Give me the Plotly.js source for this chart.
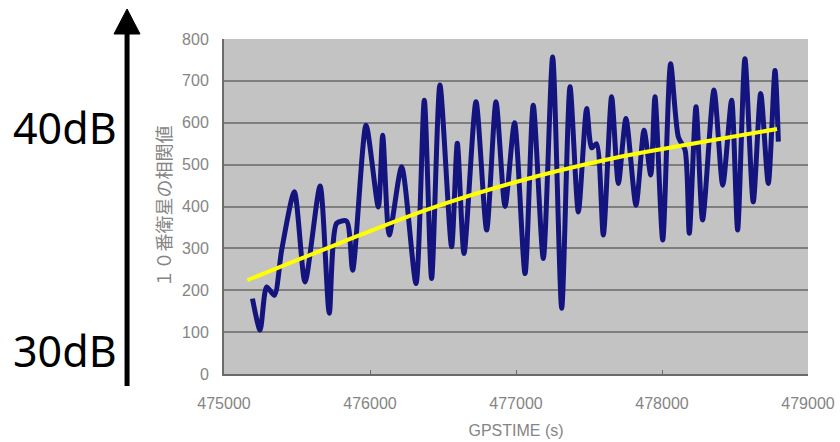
<!DOCTYPE html>
<html>
<head>
<meta charset="utf-8">
<script src="https://cdn.plot.ly/plotly-3.0.1.min.js"></script>
<style>html,body{margin:0;padding:0;background:#fff;}#chart{width:840px;height:442px;}</style>
</head>
<body>
<div id="chart"></div>
<script>
// GPS time (s) of the correlation curve's turning points
var gpsTime = [475195, 475247, 475292, 475345, 475395, 475482, 475555, 475658, 475721, 475772,
  475840, 475881, 475973, 476057, 476087, 476132, 476217, 476315, 476372, 476422,
  476479, 476559, 476598, 476644, 476726, 476799, 476863, 476925, 476990, 477062,
  477118, 477187, 477251, 477313, 477370, 477427, 477484, 477518, 477552, 477598,
  477655, 477701, 477753, 477822, 477877, 477923, 477952, 478005, 478059, 478112,
  478158, 478187, 478233, 478278, 478356, 478416, 478477, 478518, 478568, 478625,
  478676, 478728, 478774, 478797];
// correlation value of satellite 10
var corrValue = [180, 105, 208, 188, 296, 435, 220, 449, 145, 360,
  365, 248, 594, 399, 570, 332, 495, 216, 654, 228,
  690, 304, 551, 288, 650, 344, 650, 400, 600, 240,
  642, 276, 757, 157, 686, 387, 634, 540, 550, 332,
  662, 455, 610, 403, 582, 475, 662, 320, 741, 566,
  535, 336, 638, 368, 678, 451, 654, 344, 753, 411,
  670, 455, 725, 555];
// trend line
var trendTime = [475160, 475760, 476377, 476993, 477610, 478226, 478788];
var trendValue = [224, 308, 391, 458, 511, 551, 585];

var xTickVals = [475000, 476000, 477000, 478000, 479000];
var xTickText = ['475000', '476000', '477000', '478000', '479000'];
var yTickVals = [0, 100, 200, 300, 400, 500, 600, 700, 800];
var yTickText = ['0', '100', '200', '300', '400', '500', '600', '700', '800'];
var yTitle = '１０番衛星の相関値';
var xTitle = 'GPSTIME (s)';
var labelHigh = '40dB';
var labelLow = '30dB';

var traces = [
  {x: gpsTime, y: corrValue, mode: 'lines', type: 'scatter',
   line: {color: '#14147f', width: 5, shape: 'spline', smoothing: 0.7}, hoverinfo: 'skip'},
  {x: trendTime, y: trendValue, mode: 'lines', type: 'scatter',
   line: {color: '#ffff00', width: 4, shape: 'spline', smoothing: 1}, hoverinfo: 'skip'}
];

var tickFont = {family: 'Liberation Sans, Arial, sans-serif', size: 16, color: '#858585'};
var layout = {
  width: 840, height: 442,
  margin: {l: 224, r: 32, t: 39, b: 68},
  paper_bgcolor: '#ffffff',
  plot_bgcolor: '#c3c3c3',
  showlegend: false,
  xaxis: {
    range: [475000, 479000], tickvals: xTickVals, ticktext: xTickText,
    showgrid: false, zeroline: false, showline: true, linecolor: '#6a6a6a', linewidth: 2,
    ticks: 'inside', ticklen: 4, tickcolor: '#6a6a6a', tickfont: tickFont,
    ticklabelstandoff: 14,
    title: {text: xTitle, font: {family: 'Liberation Sans, Arial, sans-serif', size: 16, color: '#858585'}, standoff: 14}
  },
  yaxis: {
    range: [0, 800], tickvals: yTickVals, ticktext: yTickText,
    showgrid: true, gridcolor: '#7e7e7e', gridwidth: 2,
    zeroline: false, showline: true, linecolor: '#6a6a6a', linewidth: 2,
    ticks: '', tickfont: tickFont, ticklabelstandoff: 10,
    title: {text: yTitle, font: {family: 'Noto Sans CJK JP, sans-serif', size: 18, color: '#858585'}, standoff: 6}
  },
  shapes: [
    {type: 'line', xref: 'paper', yref: 'paper', x0: -0.166, x1: -0.166, y0: -0.036, y1: 1.02,
     line: {color: '#000000', width: 5}},
    {type: 'path', xref: 'paper', yref: 'paper',
     path: 'M -0.1884,1.0149 L -0.166,1.0896 L -0.1438,1.0149 Z',
     fillcolor: '#000000', line: {color: '#000000', width: 1}}
  ],
  annotations: [
    {text: labelHigh, xref: 'paper', yref: 'paper', x: -0.272, y: 0.737, xanchor: 'center', yanchor: 'middle',
     showarrow: false, font: {family: 'Noto Sans, sans-serif', size: 43, color: '#000000'}},
    {text: labelLow, xref: 'paper', yref: 'paper', x: -0.272, y: 0.069, xanchor: 'center', yanchor: 'middle',
     showarrow: false, font: {family: 'Noto Sans, sans-serif', size: 43, color: '#000000'}}
  ]
};

Plotly.newPlot('chart', traces, layout, {staticPlot: true, displayModeBar: false});
</script>
</body>
</html>
